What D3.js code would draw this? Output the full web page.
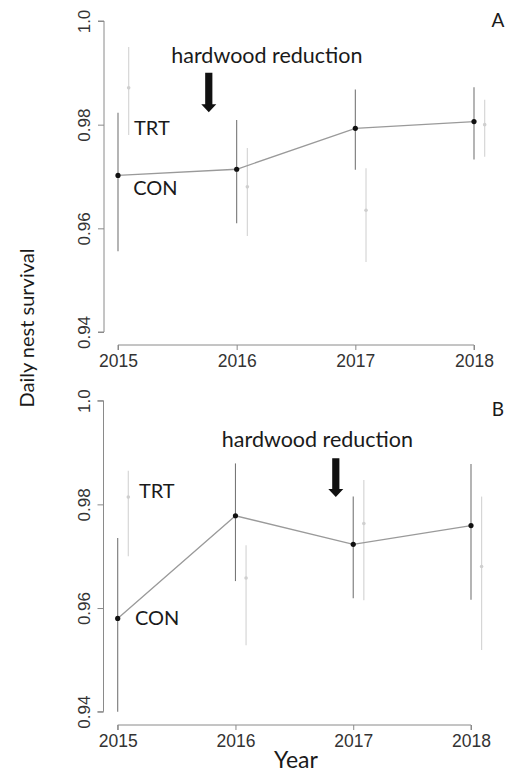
<!DOCTYPE html>
<html>
<head>
<meta charset="utf-8">
<script src="https://cdn.jsdelivr.net/npm/d3@7"></script>
<style>
  html, body { margin: 0; padding: 0; background: #fff; }
  svg { display: block; }
</style>
</head>
<body>
<svg id="chart" width="520" height="772"></svg>
<script>
// Daily nest survival by year, control (CON) and treatment (TRT) sites
const years = [2015, 2016, 2017, 2018];
const yTicks = [0.94, 0.96, 0.98, 1.0];
const yTickLabels = ["0.94", "0.96", "0.98", "1.0"];
const panels = ["A", "B"];

// Panel A
const conA = [0.9702, 0.9714, 0.9793, 0.9806];
const conALow = [0.9556, 0.9610, 0.9713, 0.9733];
const conAHigh = [0.9823, 0.9809, 0.9868, 0.9872];
const trtA = [0.9871, 0.9680, 0.9635, 0.9800];
const trtALow = [0.9780, 0.9585, 0.9535, 0.9738];
const trtAHigh = [0.9950, 0.9755, 0.9716, 0.9848];

// Panel B
const conB = [0.9580, 0.9778, 0.9723, 0.9759];
const conBLow = [0.9400, 0.9652, 0.9619, 0.9616];
const conBHigh = [0.9735, 0.9879, 0.9815, 0.9878];
const trtB = [0.9814, 0.9658, 0.9763, 0.9680];
const trtBLow = [0.9700, 0.9528, 0.9615, 0.9519];
const trtBHigh = [0.9865, 0.9721, 0.9847, 0.9815];

// Year at which hardwood reduction took place in each panel
const reductionYear = [2015.765, 2016.852];

const svg = d3.select("#chart");
const labelFont = "Lato, 'Open Sans', sans-serif";
const tickFont = "'Liberation Sans', Arial, sans-serif";

const layout = [
  { x0: 118, x1: 474, yTop: 21, yBot: 332, axisX: 104, axisY: 345 },
  { x0: 117.7, x1: 471, yTop: 400.7, yBot: 711.7, axisX: 103.5, axisY: 725 }
];

const series = [
  { con: conA, conLo: conALow, conHi: conAHigh, trt: trtA, trtLo: trtALow, trtHi: trtAHigh },
  { con: conB, conLo: conBLow, conHi: conBHigh, trt: trtB, trtLo: trtBLow, trtHi: trtBHigh }
];

// Label positions in data space: [year, value]
const annot = [
  { text: [2016.255, 0.9919], trt: [2015.135, 0.9780], con: [2015.128, 0.9664],
    arrowTop: 0.9900, arrowTip: 0.9824 },
  { text: [2016.696, 0.9911], trt: [2015.18, 0.9812], con: [2015.147, 0.9567],
    arrowTop: 0.9889, arrowTip: 0.9814 }
];

const trtOffset = 0.09; // TRT drawn slightly right of each year

panels.forEach((name, i) => {
  const L = layout[i];
  const S = series[i];
  const A = annot[i];
  const x = d3.scaleLinear().domain([2015, 2018]).range([L.x0, L.x1]);
  const y = d3.scaleLinear().domain([0.94, 1.0]).range([L.yBot, L.yTop]);
  const g = svg.append("g");

  // Y axis
  const yAxis = d3.axisLeft(y).tickValues(yTicks)
    .tickFormat((d, k) => yTickLabels[k]).tickSize(6).tickPadding(4);
  const ya = g.append("g").attr("transform", `translate(${L.axisX},0)`).call(yAxis);
  ya.select(".domain").attr("stroke", "#8a8a8a").attr("d", `M-6,${y(1.0)}H0V${y(0.94)}H-6`);
  ya.selectAll(".tick line").attr("stroke", "#8a8a8a");
  ya.selectAll(".tick text")
    .attr("font-family", tickFont).attr("font-size", 17).attr("fill", "#333")
    .attr("text-anchor", "middle").attr("x", 0).attr("dy", null)
    .attr("transform", "translate(-14,0) rotate(-90)");

  // X axis
  const xAxis = d3.axisBottom(x).tickValues(years).tickFormat(d3.format("d"))
    .tickSize(5).tickPadding(5);
  const xa = g.append("g").attr("transform", `translate(0,${L.axisY})`).call(xAxis);
  xa.select(".domain").attr("stroke", "#8a8a8a").attr("d", `M${x(2015)},5V0H${x(2018)}V5`);
  xa.selectAll(".tick line").attr("stroke", "#8a8a8a");
  xa.selectAll(".tick text")
    .attr("font-family", tickFont).attr("font-size", 17.5).attr("fill", "#333");

  // TRT: faint error bars and points
  g.selectAll(".trtBar").data(years).join("line")
    .attr("x1", d => x(d + trtOffset)).attr("x2", d => x(d + trtOffset))
    .attr("y1", (d, k) => y(S.trtHi[k])).attr("y2", (d, k) => y(S.trtLo[k]))
    .attr("stroke", "#d6d6d6").attr("stroke-width", 1.2);
  g.selectAll(".trtPt").data(years).join("circle")
    .attr("cx", d => x(d + trtOffset)).attr("cy", (d, k) => y(S.trt[k]))
    .attr("r", 1.8).attr("fill", "#cfcfcf");

  // CON: connecting line, error bars and points
  const line = d3.line().x(d => x(d[0])).y(d => y(d[1]));
  g.append("path").datum(years.map((d, k) => [d, S.con[k]]))
    .attr("d", line).attr("fill", "none")
    .attr("stroke", "#9a9a9a").attr("stroke-width", 1.3);
  g.selectAll(".conBar").data(years).join("line")
    .attr("x1", d => x(d)).attr("x2", d => x(d))
    .attr("y1", (d, k) => y(S.conHi[k])).attr("y2", (d, k) => y(S.conLo[k]))
    .attr("stroke", "#777").attr("stroke-width", 1.1);
  g.selectAll(".conPt").data(years).join("circle")
    .attr("cx", d => x(d)).attr("cy", (d, k) => y(S.con[k]))
    .attr("r", 2.6).attr("fill", "#111");

  // Series labels
  g.append("text").attr("x", x(A.trt[0])).attr("y", y(A.trt[1]))
    .attr("font-family", labelFont).attr("font-size", 20).attr("fill", "#1a1a1a").text("TRT");
  g.append("text").attr("x", x(A.con[0])).attr("y", y(A.con[1]))
    .attr("font-family", labelFont).attr("font-size", 20).attr("fill", "#1a1a1a").text("CON");

  // Hardwood reduction annotation with arrow
  g.append("text").attr("x", x(A.text[0])).attr("y", y(A.text[1]))
    .attr("text-anchor", "middle")
    .attr("font-family", labelFont).attr("font-size", 21.5).attr("fill", "#1a1a1a")
    .text("hardwood reduction");
  const ax = x(reductionYear[i]);
  const top = y(A.arrowTop), tip = y(A.arrowTip);
  const headH = 8, shaftW = 3.6, headW = 7.5;
  g.append("path")
    .attr("d", `M${ax - shaftW},${top}H${ax + shaftW}V${tip - headH}H${ax + headW}` +
               `L${ax},${tip}L${ax - headW},${tip - headH}H${ax - shaftW}Z`)
    .attr("fill", "#111");

  // Panel letter
  g.append("text").attr("x", 498).attr("y", i === 0 ? 27 : 416)
    .attr("text-anchor", "middle")
    .attr("font-family", labelFont).attr("font-size", 19).attr("fill", "#1a1a1a").text(name);
});

// Shared axis titles
svg.append("text")
  .attr("transform", "translate(34,328) rotate(-90)")
  .attr("text-anchor", "middle")
  .attr("font-family", labelFont).attr("font-size", 20).attr("fill", "#1a1a1a")
  .text("Daily nest survival");
svg.append("text")
  .attr("x", 296).attr("y", 768)
  .attr("text-anchor", "middle")
  .attr("font-family", labelFont).attr("font-size", 23).attr("fill", "#1a1a1a")
  .text("Year");
</script>
</body>
</html>
